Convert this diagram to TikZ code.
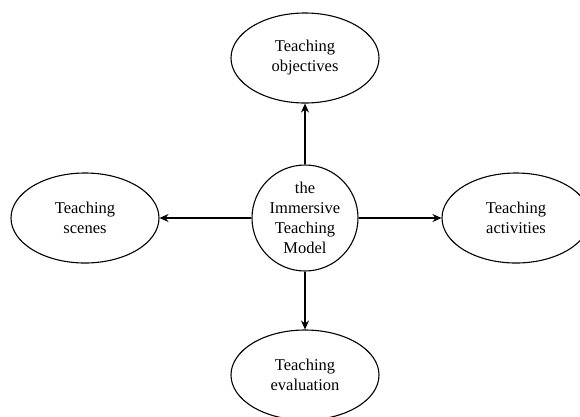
\documentclass[tikz,border=0pt]{standalone}
\usepackage{fontspec}
\setmainfont{Liberation Serif}
\usetikzlibrary{shapes.geometric, arrows.meta}

\begin{document}
\begin{tikzpicture}[x=1pt,y=-1pt,
  aspect/.style={ellipse,draw,line width=1.1pt,minimum width=148pt,minimum height=90pt,
    inner sep=0pt,align=center,font=\fontsize{16.5}{20}\selectfont},
  hub/.style={circle,draw,line width=1.1pt,minimum size=106pt,inner sep=0pt,
    align=center,font=\fontsize{16.5}{20}\selectfont},
  link/.style={line width=1.1pt,-{Stealth[length=9pt,width=8pt]}}]

\clip (0,0) rectangle (580,416);
\useasboundingbox (0,0) rectangle (580,416);

\node[hub] (model) at (305,218) {the\\Immersive\\Teaching\\Model};

\node[aspect] (obj) at (305,58) {Teaching\\objectives};
\node[aspect] (scn) at (85,218) {Teaching\\scenes};
\node[aspect] (act) at (516,218) {Teaching\\activities};
\node[aspect] (eva) at (305,375) {Teaching\\evaluation};

\draw[link] (model)--(obj);
\draw[link] (model)--(scn);
\draw[link] (model)--(act);
\draw[link] (model)--(eva);

\end{tikzpicture}
\end{document}
